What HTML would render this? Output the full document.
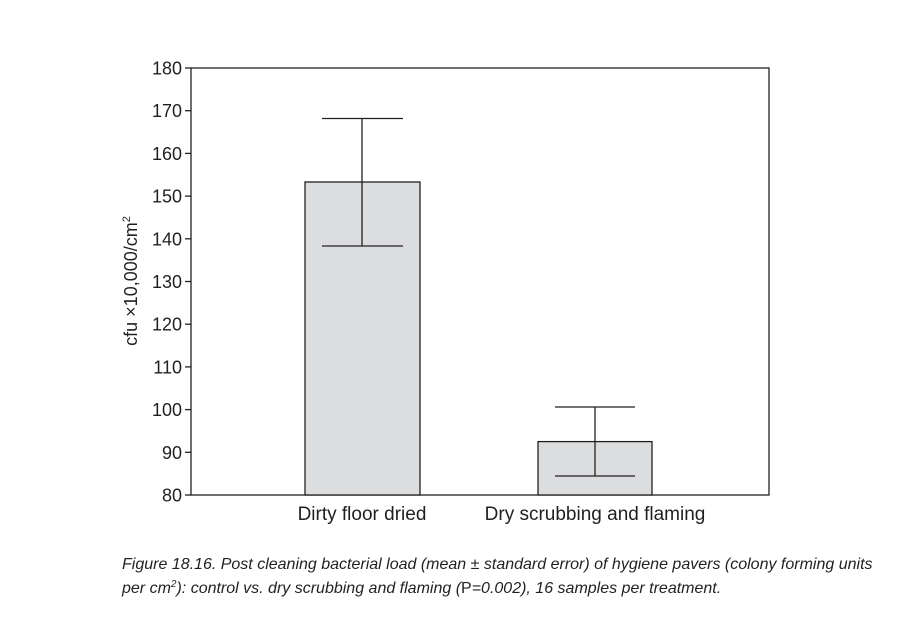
<!DOCTYPE html>
<html><head><meta charset="utf-8"><style>
body{margin:0;background:#fff;}
</style></head><body>
<svg width="924" height="638" xmlns="http://www.w3.org/2000/svg" style="display:block">
<g font-family="Liberation Sans, sans-serif" font-size="18" fill="#231f20">
<rect x="191" y="68" width="578" height="427" fill="none" stroke="#231f20" stroke-width="1.3"/>
<g stroke="#231f20" stroke-width="1.3">
<line x1="185" y1="68" x2="191" y2="68"/><line x1="185" y1="110.7" x2="191" y2="110.7"/>
<line x1="185" y1="153.4" x2="191" y2="153.4"/><line x1="185" y1="196.1" x2="191" y2="196.1"/>
<line x1="185" y1="238.8" x2="191" y2="238.8"/><line x1="185" y1="281.5" x2="191" y2="281.5"/>
<line x1="185" y1="324.2" x2="191" y2="324.2"/><line x1="185" y1="366.9" x2="191" y2="366.9"/>
<line x1="185" y1="409.6" x2="191" y2="409.6"/><line x1="185" y1="452.3" x2="191" y2="452.3"/>
<line x1="185" y1="495" x2="191" y2="495"/>
</g>
<g text-anchor="end">
<text x="182" y="74.5">180</text><text x="182" y="117.2">170</text><text x="182" y="159.9">160</text>
<text x="182" y="202.6">150</text><text x="182" y="245.3">140</text><text x="182" y="288">130</text>
<text x="182" y="330.7">120</text><text x="182" y="373.4">110</text><text x="182" y="416.1">100</text>
<text x="182" y="458.8">90</text><text x="182" y="501.5">80</text>
</g>
<text transform="translate(137,281) rotate(-90)" text-anchor="middle">cfu ×10,000/cm<tspan font-size="11" dy="-7">2</tspan></text>
<rect x="305" y="182" width="115" height="313" fill="#dcdddf" stroke="#231f20" stroke-width="1.3"/>
<rect x="538" y="441.6" width="114" height="53.4" fill="#dcdddf" stroke="#231f20" stroke-width="1.3"/>
<g stroke="#231f20" stroke-width="1.3">
<line x1="362" y1="118.5" x2="362" y2="246"/><line x1="322" y1="118.5" x2="403" y2="118.5"/><line x1="322" y1="246" x2="403" y2="246"/>
<line x1="595" y1="407" x2="595" y2="476"/><line x1="555" y1="407" x2="635" y2="407"/><line x1="555" y1="476" x2="635" y2="476"/>
</g>
<text x="362" y="520" text-anchor="middle" font-size="19">Dirty floor dried</text>
<text x="595" y="520" text-anchor="middle" font-size="19">Dry scrubbing and flaming</text>
<g font-style="italic" font-size="16">
<text x="122" y="569">Figure 18.16. Post cleaning bacterial load (mean ± standard error) of hygiene pavers (colony forming units</text>
<text x="122" y="593">per cm<tspan font-size="10" dy="-6">2</tspan><tspan dy="6">): control vs. dry scrubbing and flaming (</tspan><tspan font-style="normal">P</tspan>=0.002), 16 samples per treatment.</text>
</g>
</g>
</svg>
</body></html>
